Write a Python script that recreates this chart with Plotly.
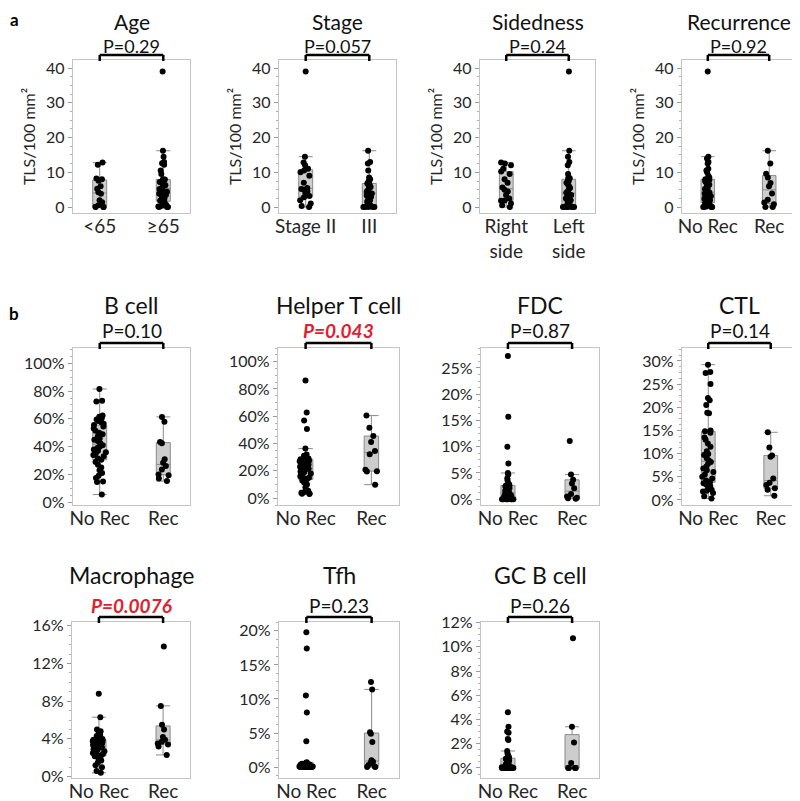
import plotly.graph_objects as go

# page body has an 8px margin: the figure is drawn 8px in from the top-left corner
OFF = 8
W, H = 800 - OFF, 801 - OFF
FONT = "Lato"

# ---------------- data (TLS/100 mm^2 and % of cells) ----------------
age_lt65 = [0, 0, 0, 0.1, 0.5, 1.4, 2.0, 3.8, 4.3, 5.3, 6.0, 7.6, 8.0, 8.2, 12.2, 12.8]
age_ge65 = [0, 0, 0, 0.2, 0.4, 0.7, 1.0, 1.3, 1.6, 1.8, 2.4, 3.0, 3.5, 3.8, 4.0, 4.4, 4.8, 5.2,
            5.5, 6.0, 6.3, 6.8, 7.0, 7.2, 7.4, 7.6, 7.9, 8.0, 9.5, 10.5, 12.2, 12.6, 13.0, 14.5, 16.2, 39.0]
stage_ii = [0, 0.3, 1.0, 2.0, 2.8, 3.2, 4.0, 4.5, 5.0, 5.2, 5.5, 7.0, 9.0, 10.0, 10.5, 11.0, 12.0, 12.8, 14.5, 39.0]
stage_iii = [0, 0, 0, 0, 0, 0.2, 0.4, 0.5, 0.5, 1.5, 2.0, 2.5, 3.0, 3.3, 3.6, 3.9,
             4.1, 4.5, 5.0, 5.5, 5.8, 6.2, 6.5, 6.8, 6.8, 7.5, 8.0, 8.5, 10.5, 12.5, 13.0, 16.2]
side_right = [0, 0.5, 1.0, 1.8, 1.9, 2.5, 3.5, 4.5, 5.0, 5.6, 7.0, 8.0, 9.5, 10.2, 11.0, 12.0, 12.5, 12.8]
side_left = [0, 0, 0, 0, 0, 0, 0.1, 0.2, 0.2, 0.3, 0.8, 1.5, 2.0, 2.5, 3.0, 3.5, 3.9,
             4.1, 4.5, 5.0, 5.5, 6.0, 6.5, 7.0, 7.5, 8.0, 8.3, 8.6, 9.5, 12.0, 13.0, 14.5, 16.2, 39.0]
rec_no = [0, 0, 0, 0, 0.2, 0.4, 0.6, 0.8, 1.0, 1.2, 1.3, 1.6, 2.0, 2.4, 2.8, 3.2, 3.5, 3.8, 4.0, 4.1, 4.2,
          4.4, 4.8, 5.2, 5.6, 6.0, 6.4, 6.8, 7.2, 7.5, 7.8, 8.0, 8.5, 9.0, 10.0, 10.5, 11.0, 12.5, 13.0, 14.0, 14.5, 39.0]
rec_yes = [0, 0, 0.8, 1.3, 2.1, 3.9, 6.0, 6.9, 8.5, 9.6, 12.5, 16.2]

bcell_no = [5.5, 14.5, 15.0, 17.5, 19.0, 21.0, 23.0, 25.0, 27.0, 29.0, 30.5, 31.5, 33, 34, 35, 36, 37, 38, 39, 40, 41,
            42.5, 44, 45, 46, 47.5, 49, 50, 51.5, 53, 54.5, 55.5, 56.5, 57.5, 58.5, 59.5, 60.5, 61.5, 62.5, 72.5, 73, 81.5]
bcell_rec = [15.2, 17, 19.5, 20, 23.6, 26, 28.4, 31, 42.4, 43.4, 58, 61.4]
helper_no = [3.0, 3.2, 3.5, 4.0, 4.5, 5.5, 8.0, 10.0, 11.5, 13.0, 13.8, 14.5, 15.0, 16.0, 17.0, 18.0, 19.0, 19.5, 20.5,
             21.0, 21.5, 22.0, 22.5, 23.0, 23.5, 24.0, 24.5, 25.5, 26.5, 27.0, 27.5, 28.5, 29.0, 29.5, 30.0, 31.0,
             32.0, 36.3, 50.6, 56.9, 62.7, 86.2]
helper_rec = [9.9, 19.6, 19.8, 20.8, 32.2, 34.6, 41.2, 45.5, 51.6, 60.5]
fdc_no = [0, 0, 0, 0, 0, 0, 0, 0.1, 0.1, 0.2, 0.2, 0.3, 0.4, 0.5, 0.6, 0.7, 0.8, 0.9, 1.0, 1.1, 1.2,
          1.3, 1.5, 1.6, 1.8, 2.0, 2.1, 2.2, 2.3, 2.4, 2.5, 2.6, 2.8, 3.0, 3.6, 4.0, 4.7, 5.0, 6.8, 10.0, 15.7, 27.3]
fdc_rec = [0.1, 0.2, 0.3, 0.5, 1.0, 2.1, 3.0, 3.7, 4.7, 11.1]
ctl_no = [0.3, 0.8, 1.5, 1.8, 2.0, 2.2, 2.5, 3.0, 3.3, 3.6, 3.8, 4.2, 4.6, 5.0, 5.5, 6.0, 6.4, 6.8, 7.2, 7.8, 8.2,
          8.5, 9.0, 9.7, 9.9, 10.5, 11.5, 12.2, 13.0, 13.5, 14.5, 14.8, 15.0, 18.7, 18.8, 20.5, 21.5, 22.0, 25.0,
          27.4, 27.6, 29.2]
ctl_rec = [0.9, 2.2, 2.5, 3.2, 3.7, 4.6, 9.3, 9.6, 11.3, 14.6]
macro_no = [0.4, 0.6, 1.0, 1.2, 1.5, 1.7, 1.9, 2.0, 2.1, 2.15, 2.2, 2.3, 2.4, 2.5, 2.6, 2.7, 2.8, 2.9, 3.0, 3.05, 3.1,
            3.2, 3.3, 3.35, 3.4, 3.5, 3.55, 3.6, 3.7, 3.75, 3.8, 3.9, 4.0, 4.1, 4.2, 4.3, 4.4, 4.6, 4.8, 5.0, 6.3, 8.8]
macro_rec = [2.3, 3.2, 3.4, 3.5, 3.7, 3.9, 4.2, 5.0, 5.5, 7.5, 13.8]
tfh_no = [0] * 10 + [0.1] * 6 + [0.2] * 6 + [0.3] * 5 + [0.4] * 4 + [0.5] * 3 + [0.6] * 2 + [0.7, 3.8, 8.0, 10.5, 17.4, 19.8]
tfh_rec = [0, 0, 0.1, 0.3, 0.6, 0.8, 1.0, 3.7, 4.9, 5.1, 11.4, 12.5]
gcb_no = [0] * 13 + [0.05] * 3 + [0.1] * 3 + [0.2] * 3 + [0.3] * 2 + [0.4, 0.5, 0.6, 0.65, 0.7, 0.75, 0.78, 0.8, 0.9,
                                                                    1.0, 1.2, 1.4, 2.3, 2.4, 2.9, 3.0, 3.4, 4.6]
gcb_rec = [0, 0, 0, 0, 0.4, 2.1, 3.4, 10.7]

titles = ["Age", "Stage", "Sidedness", "Recurrence", "B cell", "Helper T cell", "FDC", "CTL",
          "Macrophage", "Tfh", "GC B cell"]
pvalues = ["P=0.29", "P=0.057", "P=0.24", "P=0.92", "P=0.10", "P=0.043", "P=0.87", "P=0.14",
           "P=0.0076", "P=0.23", "P=0.26"]
significant = [False, False, False, False, False, True, False, False, True, False, False]
cat_age = ["<65", "≥65"]
cat_stage = ["Stage II", "III"]
cat_side = ["Right<br>side", "Left<br>side"]
cat_rec = ["No Rec", "Rec"]
groups = [(age_lt65, age_ge65), (stage_ii, stage_iii), (side_right, side_left), (rec_no, rec_yes),
          (bcell_no, bcell_rec), (helper_no, helper_rec), (fdc_no, fdc_rec), (ctl_no, ctl_rec),
          (macro_no, macro_rec), (tfh_no, tfh_rec), (gcb_no, gcb_rec)]
cats = [cat_age, cat_stage, cat_side, cat_rec] + [cat_rec] * 7
ytick_sets = [[0, 10, 20, 30, 40]] * 4 + [[0, 20, 40, 60, 80, 100], [0, 20, 40, 60, 80, 100],
                                          [0, 5, 10, 15, 20, 25], [0, 5, 10, 15, 20, 25, 30],
                                          [0, 4, 8, 12, 16], [0, 5, 10, 15, 20], [0, 2, 4, 6, 8, 10, 12]]
yranges = [[-1.7, 42.3]] * 4 + [[-2, 111], [-5, 110], [-1.1, 28.8], [-1.1, 32.8],
                                [-0.15, 16.4], [-1.6, 21.3], [-0.83, 12.05]]

# ---------------- layout geometry (window pixels) ----------------
col_px = [(73, 190), (279, 396), (480, 595), (682, 795),
          (73, 190), (278, 399), (481, 599), (682, 797),
          (72, 190), (279, 399), (481, 599)]
row_px = [(60, 213)] * 4 + [(348, 505)] * 4 + [(622, 778)] * 3


def px(v):
    return (v - OFF) / W


def py(v):
    return 1 - (v - OFF) / H


fig = go.Figure()
shapes = []
annotations = []
TEXT = "#262626"
for i in range(11):
    n = i + 1
    xa = "x" if n == 1 else f"x{n}"
    ya = "y" if n == 1 else f"y{n}"
    for c, vals in zip(cats[i], groups[i]):
        fig.add_trace(go.Box(
            x=[c] * len(vals), y=vals, xaxis=xa, yaxis=ya,
            boxpoints="all", jitter=1.0, pointpos=0, width=0.22, whiskerwidth=1,
            fillcolor="#cdcdcd", line=dict(color="#8a8a8a", width=1),
            marker=dict(color="black", size=6, line=dict(width=0)),
            showlegend=False, quartilemethod="linear"))
    x0, x1 = col_px[i]
    top, bot = row_px[i]
    percent = i >= 4
    tv = ytick_sets[i]
    tt = [f"{v}%" if percent else f"{v}" for v in tv]
    fig.layout[f"xaxis{'' if n == 1 else n}"] = dict(
        domain=[px(x0), px(x1)], anchor=ya, type="category", automargin=False,
        categoryorder="array", categoryarray=cats[i], range=[-0.42, 1.42],
        showline=True, mirror=True, linecolor="#c4c4c4", linewidth=1.3,
        ticks="", showgrid=False, zeroline=False,
        tickfont=dict(family=FONT, size=19, color=TEXT), ticklabelstandoff=-4)
    fig.layout[f"yaxis{'' if n == 1 else n}"] = dict(
        domain=[py(bot), py(top)], anchor=xa, range=yranges[i], automargin=False,
        tickmode="array", tickvals=tv, ticktext=tt,
        showline=True, mirror=True, linecolor="#c4c4c4", linewidth=1.3,
        ticks="outside", ticklen=4, tickcolor="#9a9a9a",
        minor=dict(ticks="outside", ticklen=2, tickcolor="#b0b0b0",
                   dtick=(tv[1] - tv[0]) / 4),
        showgrid=False, zeroline=False,
        tickfont=dict(family=FONT, size=16, color=TEXT),
        title=dict(text="TLS/100 mm²", font=dict(family=FONT, size=16, color=TEXT), standoff=6) if i < 4 else None)
    cx = (x0 + x1) / 2
    if significant[i]:
        ptxt = f"<b><i>{pvalues[i]}</i></b>"
        pcolor = "#e0202e"
    else:
        ptxt = pvalues[i]
        pcolor = "#111111"
    if i < 4:
        # top row: tight space under the page edge
        annotations.append(dict(x=px(cx), y=py(OFF), xref="paper", yref="paper", text=titles[i],
                                showarrow=False, font=dict(family=FONT, size=21, color="#111111"),
                                borderpad=0, xanchor="center", yanchor="top"))
        annotations.append(dict(x=px(cx), y=py(34), xref="paper", yref="paper", text=ptxt,
                                showarrow=False, font=dict(family=FONT, size=18, color=pcolor),
                                borderpad=0, xanchor="center", yanchor="top"))
        bline = top - 5
    else:
        tpx = 305 if i < 8 else 575
        annotations.append(dict(x=px(cx), y=py(tpx), xref="paper", yref="paper", text=titles[i],
                                showarrow=False, font=dict(family=FONT, size=23, color="#111111"),
                                borderpad=0, xanchor="center", yanchor="middle"))
        annotations.append(dict(x=px(cx), y=py(top - 17), xref="paper", yref="paper", text=ptxt,
                                showarrow=False, font=dict(family=FONT, size=19, color=pcolor),
                                borderpad=0, xanchor="center", yanchor="middle"))
        bline = top - 5
    # bracket
    btop = py(bline)
    bbot = py(top + 1)
    for (ax0, ay0, ax1, ay1) in [(0, btop, 1, btop), (0, btop, 0, bbot), (1, btop, 1, bbot)]:
        shapes.append(dict(type="line", xref=xa, yref="paper", x0=ax0, x1=ax1, y0=ay0, y1=ay1,
                           line=dict(color="black", width=2.5)))

annotations.append(dict(x=px(14), y=py(20), xref="paper", yref="paper", text="<b>a</b>", showarrow=False,
                        font=dict(family=FONT, size=17, color="black"), xanchor="center", yanchor="middle"))
annotations.append(dict(x=px(14), y=py(313), xref="paper", yref="paper", text="<b>b</b>", showarrow=False,
                        font=dict(family=FONT, size=17, color="black"), xanchor="center", yanchor="middle"))

fig.update_layout(template="none", width=W, height=H, margin=dict(l=0, r=0, t=0, b=0, autoexpand=False),
                  paper_bgcolor="white", plot_bgcolor="white",
                  shapes=shapes, annotations=annotations, showlegend=False,
                  font=dict(family=FONT, color=TEXT))
fig.write_html("out.html")
